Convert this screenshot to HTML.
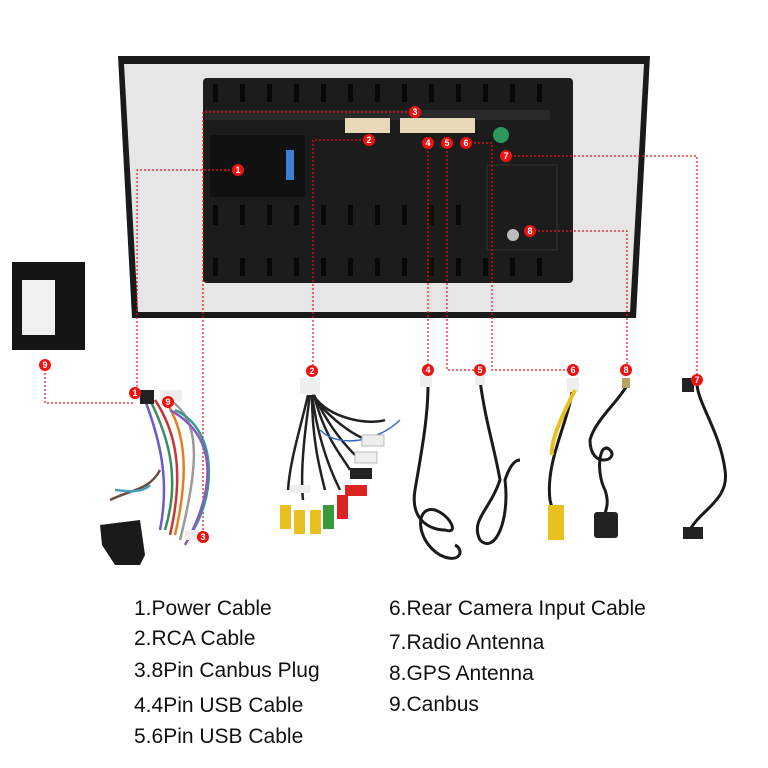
<!DOCTYPE html>
<html><head><meta charset="utf-8"><style>
body{margin:0;width:768px;height:768px;background:#fff;overflow:hidden;position:relative;font-family:"Liberation Sans",sans-serif}
.t{position:absolute;font-size:21px;color:#111;white-space:nowrap}
</style></head><body>
<svg width="768" height="768" style="position:absolute;left:0;top:0">
<defs><g id="m"><circle r="6" fill="#e11"/></g></defs>
<path d="M118,56 L650,56 L636,318 L132,318 Z" fill="#1a1a1a"/>
<path d="M124,64 L644,64 L630,312 L138,312 Z" fill="#e6e6e6"/>
<rect x="203" y="78" width="370" height="205" rx="4" fill="#1c1c1c"/>
<rect x="205" y="110" width="345" height="10" fill="#2a2a2a"/>
<g fill="#080808">
<rect x="213" y="84" width="5" height="18"/><rect x="240" y="84" width="5" height="18"/><rect x="267" y="84" width="5" height="18"/><rect x="294" y="84" width="5" height="18"/><rect x="321" y="84" width="5" height="18"/><rect x="348" y="84" width="5" height="18"/><rect x="375" y="84" width="5" height="18"/><rect x="402" y="84" width="5" height="18"/><rect x="429" y="84" width="5" height="18"/><rect x="456" y="84" width="5" height="18"/><rect x="483" y="84" width="5" height="18"/><rect x="510" y="84" width="5" height="18"/><rect x="537" y="84" width="5" height="18"/>
<rect x="213" y="258" width="5" height="18"/><rect x="240" y="258" width="5" height="18"/><rect x="267" y="258" width="5" height="18"/><rect x="294" y="258" width="5" height="18"/><rect x="321" y="258" width="5" height="18"/><rect x="348" y="258" width="5" height="18"/><rect x="375" y="258" width="5" height="18"/><rect x="402" y="258" width="5" height="18"/><rect x="429" y="258" width="5" height="18"/><rect x="456" y="258" width="5" height="18"/><rect x="483" y="258" width="5" height="18"/><rect x="510" y="258" width="5" height="18"/><rect x="537" y="258" width="5" height="18"/>
<rect x="213" y="205" width="5" height="20"/><rect x="240" y="205" width="5" height="20"/><rect x="267" y="205" width="5" height="20"/><rect x="294" y="205" width="5" height="20"/><rect x="321" y="205" width="5" height="20"/><rect x="348" y="205" width="5" height="20"/><rect x="375" y="205" width="5" height="20"/><rect x="402" y="205" width="5" height="20"/><rect x="429" y="205" width="5" height="20"/><rect x="456" y="205" width="5" height="20"/>
</g>
<rect x="210" y="135" width="95" height="62" fill="#111"/>
<rect x="286" y="150" width="8" height="30" fill="#3a7fd0"/>
<rect x="345" y="118" width="45" height="15" fill="#e8d8b8"/>
<rect x="400" y="118" width="75" height="15" fill="#e8d8b8"/>
<circle cx="501" cy="135" r="8" fill="#2a9a5a"/>
<circle cx="513" cy="235" r="6" fill="#bbb"/>
<rect x="487" y="165" width="70" height="85" fill="none" stroke="#333"/>
<g stroke="#e11" stroke-width="1.2" stroke-dasharray="2,2" fill="none">
<path d="M238,170 H137 V395"/>
<path d="M415,112 H203 V537"/>
<path d="M369,140 H313 V371"/>
<path d="M428,143 V370"/>
<path d="M447,143 V370 H480"/>
<path d="M466,143 H492 V370 H573"/>
<path d="M506,156 H697 V380"/>
<path d="M530,231 H627 V370"/>
<path d="M45,365 V403 H135"/>
</g>
<rect x="12" y="262" width="73" height="88" fill="#151515"/>
<rect x="22" y="280" width="33" height="55" fill="#f0f0f0"/>
<!-- harness 1 -->
<g fill="none" stroke-width="2.5">
<path d="M145,400 C160,440 170,480 160,530" stroke="#6a5acd"/>
<path d="M150,400 C170,440 180,480 165,530" stroke="#3a8a5a"/>
<path d="M155,400 C175,430 185,470 170,535" stroke="#c33"/>
<path d="M165,400 C185,430 190,470 175,535" stroke="#e08020"/>
<path d="M170,400 C200,420 200,460 180,540" stroke="#999"/>
<path d="M175,410 C220,430 215,500 190,535" stroke="#3a9a8a"/>
<path d="M170,410 C225,440 210,500 185,545" stroke="#8a5ac0"/>
<path d="M160,470 C150,490 130,490 110,500" stroke="#6a4a3a"/>
<path d="M150,485 C140,495 120,490 115,490" stroke="#4a9ac0"/>
</g>
<rect x="160" y="390" width="22" height="12" fill="#eee"/>
<rect x="140" y="390" width="14" height="14" fill="#222"/>
<path d="M100,525 L140,520 L145,555 L140,565 L115,565 L102,545 Z" fill="#1a1a1a"/>
<rect x="185" y="530" width="14" height="10" fill="#eee"/>
<!-- RCA -->
<rect x="300" y="378" width="20" height="16" fill="#eee"/>
<g fill="none" stroke="#222" stroke-width="2.5">
<path d="M308,395 C300,430 290,460 288,490"/><path d="M310,395 C305,430 300,470 303,500"/>
<path d="M312,395 C312,440 320,470 325,490"/><path d="M312,395 C318,440 330,470 340,490"/>
<path d="M314,395 C325,440 345,460 350,470"/><path d="M314,395 C330,430 350,450 355,455"/>
<path d="M312,395 C330,420 360,440 370,440"/><path d="M313,395 C330,420 370,425 385,420"/>
</g>
<path d="M320,430 C340,450 380,440 400,420" stroke="#3a6ac0" stroke-width="1.5" fill="none"/>
<g>
<rect x="280" y="505" width="11" height="24" fill="#e8c020"/><rect x="294" y="510" width="11" height="24" fill="#e8c020"/>
<rect x="310" y="510" width="11" height="24" fill="#e8c020"/><rect x="323" y="505" width="11" height="24" fill="#3a9a3a"/>
<rect x="337" y="495" width="11" height="24" fill="#d22"/>
<rect x="345" y="485" width="22" height="11" fill="#d22"/><rect x="350" y="468" width="22" height="11" fill="#222"/>
<rect x="355" y="452" width="22" height="11" fill="#eee" stroke="#bbb"/><rect x="362" y="435" width="22" height="11" fill="#eee" stroke="#bbb"/>
<rect x="290" y="485" width="20" height="8" fill="#eee"/>
</g>
<!-- singles -->
<g stroke="#1a1a1a" stroke-width="3" fill="none">
<path d="M428,385 C428,420 420,460 415,490 C410,520 430,530 445,530 C460,535 450,515 435,510 C415,505 415,540 440,555 C460,565 465,550 455,545"/>
<path d="M480,380 C485,420 495,450 500,480 C490,510 470,520 480,540 C495,555 510,520 505,480 C510,465 515,460 520,460"/>
<path d="M573,385 C570,420 545,460 550,500 L555,520"/>
<path d="M627,385 C620,400 595,420 590,440 C590,470 620,460 610,450 C600,440 595,470 605,490 C610,505 605,510 605,515"/>
<path d="M697,380 C695,400 720,430 725,470 C730,500 700,510 690,530"/>
</g>
<rect x="420" y="375" width="12" height="12" fill="#eee"/>
<rect x="475" y="375" width="10" height="10" fill="#eee"/>
<rect x="567" y="378" width="12" height="14" fill="#eee"/>
<path d="M575,390 C565,410 550,440 552,455" stroke="#e8c020" stroke-width="4" fill="none"/>
<rect x="548" y="505" width="16" height="35" fill="#e8c020"/>
<rect x="622" y="378" width="8" height="10" fill="#b8a060"/>
<rect x="594" y="512" width="24" height="26" rx="3" fill="#222"/>
<rect x="682" y="378" width="12" height="14" fill="#222"/>
<rect x="683" y="527" width="20" height="12" fill="#222"/>
<g font-size="9" font-weight="bold" fill="#fff" text-anchor="middle" font-family="Liberation Sans,sans-serif">
<g transform="translate(238,170)"><use href="#m"/><text y="3">1</text></g>
<g transform="translate(369,140)"><use href="#m"/><text y="3">2</text></g>
<g transform="translate(415,112)"><use href="#m"/><text y="3">3</text></g>
<g transform="translate(428,143)"><use href="#m"/><text y="3">4</text></g>
<g transform="translate(447,143)"><use href="#m"/><text y="3">5</text></g>
<g transform="translate(466,143)"><use href="#m"/><text y="3">6</text></g>
<g transform="translate(506,156)"><use href="#m"/><text y="3">7</text></g>
<g transform="translate(530,231)"><use href="#m"/><text y="3">8</text></g>
<g transform="translate(135,393)"><use href="#m"/><text y="3">1</text></g>
<g transform="translate(312,371)"><use href="#m"/><text y="3">2</text></g>
<g transform="translate(203,537)"><use href="#m"/><text y="3">3</text></g>
<g transform="translate(428,370)"><use href="#m"/><text y="3">4</text></g>
<g transform="translate(480,370)"><use href="#m"/><text y="3">5</text></g>
<g transform="translate(573,370)"><use href="#m"/><text y="3">6</text></g>
<g transform="translate(697,380)"><use href="#m"/><text y="3">7</text></g>
<g transform="translate(626,370)"><use href="#m"/><text y="3">8</text></g>
<g transform="translate(45,365)"><use href="#m"/><text y="3">9</text></g>
<g transform="translate(168,402)"><use href="#m"/><text y="3">9</text></g>
</g>
</svg>
<div class="t" style="left:134px;top:597px">1.Power Cable</div>
<div class="t" style="left:134px;top:627px">2.RCA Cable</div>
<div class="t" style="left:134px;top:659px">3.8Pin Canbus Plug</div>
<div class="t" style="left:134px;top:694px">4.4Pin USB Cable</div>
<div class="t" style="left:134px;top:725px">5.6Pin USB Cable</div>
<div class="t" style="left:389px;top:597px">6.Rear Camera Input Cable</div>
<div class="t" style="left:389px;top:631px">7.Radio Antenna</div>
<div class="t" style="left:389px;top:662px">8.GPS Antenna</div>
<div class="t" style="left:389px;top:693px">9.Canbus</div>
</body></html>
